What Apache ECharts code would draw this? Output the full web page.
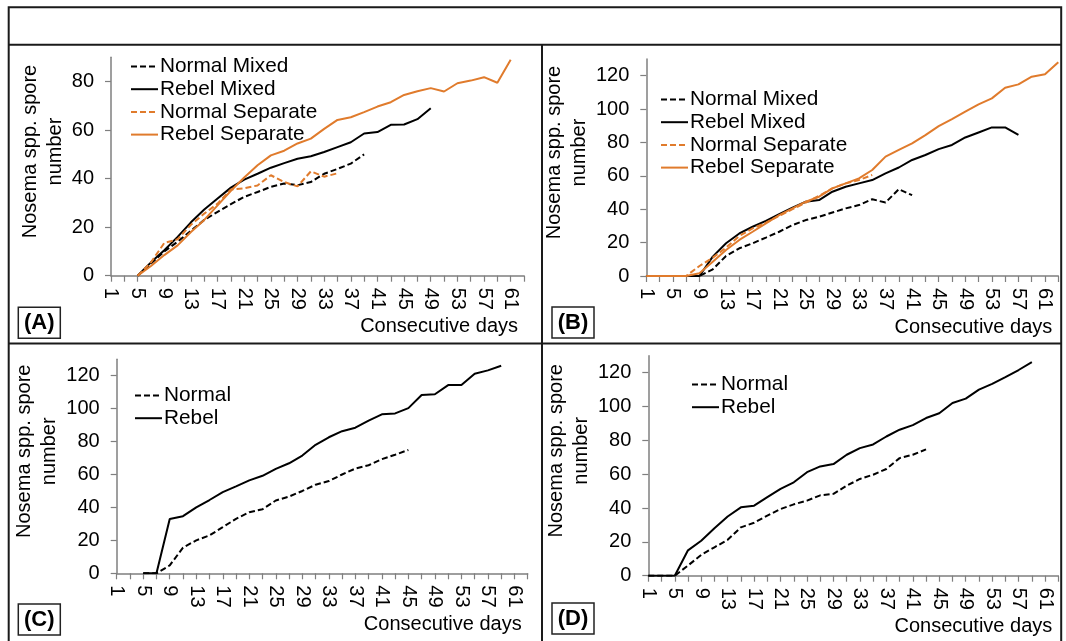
<!DOCTYPE html>
<html>
<head>
<meta charset="utf-8">
<script src="https://cdn.jsdelivr.net/npm/echarts@6/dist/echarts.min.js"></script>
<style>
html,body{margin:0;padding:0;background:#fff;}
#chart{width:1066px;height:641px;}
</style>
</head>
<body>
<div id="chart"></div>
<script>
// ---------- categories / tick labels ----------
const dayLabels = ['1','2','3','4','5','6','7','8','9','10','11','12','13','14','15','16','17','18','19','20',
  '21','22','23','24','25','26','27','28','29','30','31','32','33','34','35','36','37','38','39','40',
  '41','42','43','44','45','46','47','48','49','50','51','52','53','54','55','56','57','58','59','60',
  '61','62','63'];
const yTicksA = [0, 20, 40, 60, 80];
const yTicksBCD = [0, 20, 40, 60, 80, 100, 120];

// ---------- Panel A ----------
const aDays = [5,7,9,11,13,15,17,19,21,23,25,27,29,31,33,35,37,39,41,43,45,47,49,51,53,55,57,59,61];
const aNormalMixed    = [0,5,10,14,18.5,23,26.3,29.5,32.5,34.5,36.6,38,37.3,38.6,42,44,46.2,50];
const aRebelMixed     = [0,5.5,10.5,16,22,27.3,31.8,36.3,39.6,42,44.5,46.4,48.2,49.2,51,53,55,58.6,59.2,62.2,62.3,64.5,69];
const aNormalSeparate = [0,5.5,13.5,15,21,25.6,29.7,35.5,36,37.2,41.4,38.6,36.8,43,40.8,42.2];
const aRebelSeparate  = [0,4,8.5,12.5,18,23,29,35,40.5,45.5,49.6,51.5,54.5,56.5,60.5,64.2,65.3,67.4,69.7,71.5,74.5,76,77.3,75.9,79.3,80.4,81.8,79.5,89];

// ---------- Panel B ----------
const bDays = [1,3,5,7,9,11,13,15,17,19,21,23,25,27,29,31,33,35,37,39,41,43,45,47,49,51,53,55,57,59,61,63];
const bNormalMixed    = [0,0,0,0,0,4,12,16.6,19.6,23,26.5,30.5,33.5,35.5,38,40.5,42.5,46,44,52,48.4];
const bRebelMixed     = [0,0,0,0,0,11.6,19.6,25.5,29.5,33,37,41,44.5,45.5,50.5,53.5,55.5,57.5,61.5,65,69.5,72.5,76,78.5,83,86,89,89,84.5];
const bNormalSeparate = [0,0,0,0,6,11,17,24,28.5,32,36,40,44,48,52.5,55.5,57.5,60.5];
const bRebelSeparate  = [0,0,0,0,1.6,8.6,15.6,21.6,26.5,31.5,36.5,40.5,44.5,47.5,52.5,55.5,58.5,63.5,71.5,75.5,79.5,84.4,89.8,94,98.4,102.8,106.4,112.8,114.8,119.4,120.8,128];

// ---------- Panel C ----------
const cDays = [5,7,9,11,13,15,17,19,21,23,25,27,29,31,33,35,37,39,41,43,45,47,49,51,53,55,57,59];
const cNormal = [0,0,4.8,15.6,20,23,28,33.1,37.1,38.9,44.2,46.6,50,53.8,56,60,63.6,65.6,69.3,72,74.9];
const cRebel  = [0,0,33,34.7,40,44.5,49.3,52.8,56.4,59.2,63.4,66.8,71.5,78,82.6,86.3,88.4,92.7,96.5,97.1,100.3,108.3,108.7,114.3,114.3,121.2,123.2,126];

// ---------- Panel D ----------
const dDays = [1,3,5,7,9,11,13,15,17,19,21,23,25,27,29,31,33,35,37,39,41,43,45,47,49,51,53,55,57,59];
const dNormal = [0,0,0,6,12.3,16.8,21.2,28.6,31.3,35.5,39.4,42.2,44.4,47.5,48.4,53.2,57.2,59.7,63.1,69.5,71.5,74.7];
const dRebel  = [0,0,0,15,20.7,28,35,40.4,41.4,46.4,51.3,55.2,61.2,64.6,66,71.5,75.4,77.6,82.3,86.3,89,93.2,96,102.1,104.7,110,113.4,117.4,121.6,126.2];

// ---------- helpers ----------
const FONT = 'Liberation Sans, Arial, sans-serif';
const BLACK = '#000000';
const ORANGE = '#E07B2C';
const AXIS = '#7f7f7f';
const DASH = [6, 3];

function pts(days, vals) { return vals.map((v, i) => [days[i] - 1, v]); }

const grids = [
  {left: 111,   top: 57.3,  width: 413, height: 218.4},
  {left: 646.3, top: 59,    width: 412, height: 217},
  {left: 116.7, top: 359.2, width: 411, height: 214.1},
  {left: 648.3, top: 355.8, width: 410, height: 219.9}
];
const yMax = [90, 130, 130, 130];
const nameGaps = [42, 48, 49, 49];

function xAxis(i) {
  return {
    type: 'category', gridIndex: i, data: dayLabels, boundaryGap: false,
    axisLine: {lineStyle: {color: AXIS, width: 1.5}},
    axisTick: {interval: 1, length: 6, lineStyle: {color: AXIS, width: 1.2}},
    axisLabel: {interval: 3, rotate: -90, fontSize: 20, color: BLACK, margin: 12, fontFamily: FONT},
    splitLine: {show: false},
    name: 'Consecutive days', nameLocation: 'end', nameGap: 0,
    nameTextStyle: {align: 'right', verticalAlign: 'top', padding: [41, 6, 0, 0], fontSize: 20, color: BLACK, fontFamily: FONT}
  };
}
function yAxis(i) {
  const ticks = i === 0 ? yTicksA : yTicksBCD;
  return {
    type: 'value', gridIndex: i, min: 0, max: yMax[i], interval: 20,
    axisLine: {show: true, lineStyle: {color: AXIS, width: 1.5}},
    axisTick: {show: true, length: 6, customValues: ticks, lineStyle: {color: AXIS, width: 1.2}},
    axisLabel: {customValues: ticks, fontSize: 20, color: BLACK, margin: 17, fontFamily: FONT},
    splitLine: {show: false},
    name: 'Nosema spp. spore\nnumber', nameLocation: 'middle', nameGap: nameGaps[i],
    nameTextStyle: {fontSize: 20, lineHeight: 25, color: BLACK, fontFamily: FONT, padding: [0, 0, 0, 30]}
  };
}
function line(name, gi, days, vals, color, dashed) {
  return {
    name: name, type: 'line', xAxisIndex: gi, yAxisIndex: gi,
    data: pts(days, vals), symbol: 'none', smooth: false,
    lineStyle: {color: color, width: 2, type: dashed ? DASH : 'solid'},
    itemStyle: {color: color}, emphasis: {disabled: true}
  };
}
function legend(left, top, names) {
  return {
    left: left, top: top, orient: 'vertical', padding: 0, itemWidth: 27, itemHeight: 14, itemGap: 1.7,
    data: names, selectedMode: false,
    itemStyle: {opacity: 0, borderWidth: 0},
    textStyle: {fontSize: 20.8, lineHeight: 20, color: BLACK, fontFamily: FONT, padding: [0, 0, 0, -3]}
  };
}

const labelBox = (x, y, txt) => ([
  {type: 'rect', shape: {x: x, y: y, width: 42, height: 31}, style: {fill: '#fff', stroke: '#222', lineWidth: 1.5}},
  {type: 'text', x: x + 21, y: y + 16, style: {text: txt, fill: BLACK, font: 'bold 22px ' + FONT, textAlign: 'center', textVerticalAlign: 'middle'}}
]);
const frameLine = (x1, y1, x2, y2) => ({type: 'line', shape: {x1: x1, y1: y1, x2: x2, y2: y2}, style: {stroke: '#1a1a1a', lineWidth: 2}});

const option = {
  animation: false,
  backgroundColor: '#fff',
  grid: grids,
  xAxis: [0, 1, 2, 3].map(xAxis),
  yAxis: [0, 1, 2, 3].map(yAxis),
  legend: [
    legend(130, 56, ['Normal Mixed', 'Rebel Mixed', 'Normal Separate', 'Rebel Separate']),
    legend(660, 89, ['Normal Mixed', 'Rebel Mixed', 'Normal Separate', 'Rebel Separate']),
    legend(134, 385, ['Normal', 'Rebel']),
    legend(691, 374, ['Normal', 'Rebel'])
  ],
  series: [
    line('Normal Mixed', 0, aDays, aNormalMixed, BLACK, true),
    line('Rebel Mixed', 0, aDays, aRebelMixed, BLACK, false),
    line('Normal Separate', 0, aDays, aNormalSeparate, ORANGE, true),
    line('Rebel Separate', 0, aDays, aRebelSeparate, ORANGE, false),
    line('Normal Mixed', 1, bDays, bNormalMixed, BLACK, true),
    line('Rebel Mixed', 1, bDays, bRebelMixed, BLACK, false),
    line('Normal Separate', 1, bDays, bNormalSeparate, ORANGE, true),
    line('Rebel Separate', 1, bDays, bRebelSeparate, ORANGE, false),
    line('Normal', 2, cDays, cNormal, BLACK, true),
    line('Rebel', 2, cDays, cRebel, BLACK, false),
    line('Normal', 3, dDays, dNormal, BLACK, true),
    line('Rebel', 3, dDays, dRebel, BLACK, false)
  ],
  graphic: [
    {type: 'rect', shape: {x: 8.7, y: 7.3, width: 1052.5, height: 640}, style: {fill: 'none', stroke: '#1a1a1a', lineWidth: 2}},
    frameLine(8.7, 44.7, 1061.2, 44.7),
    frameLine(542, 44.7, 542, 641),
    frameLine(8.7, 343.5, 1061.2, 343.5),
    ...labelBox(18.3, 307.3, '(A)'),
    ...labelBox(552, 307, '(B)'),
    ...labelBox(18.3, 604, '(C)'),
    ...labelBox(552, 603, '(D)')
  ]
};
const chart = echarts.init(document.getElementById('chart'), null, {renderer: 'canvas'});
chart.setOption(option);
</script>
</body>
</html>
